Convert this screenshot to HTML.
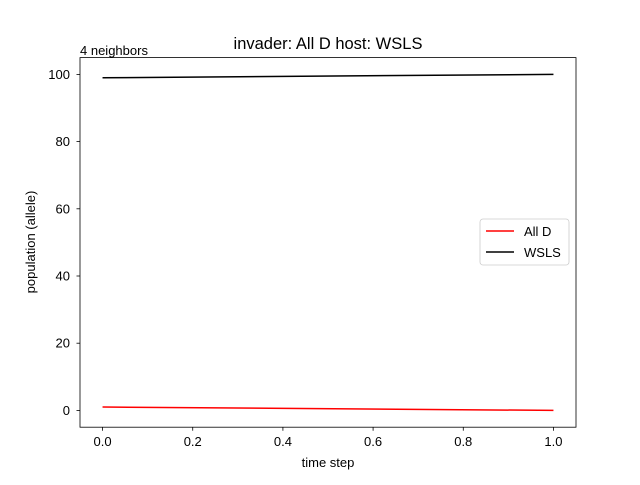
<!DOCTYPE html>
<html><head><meta charset="utf-8"><style>
body{margin:0;background:#fff;}
svg{font-family:"Liberation Sans","DejaVu Sans",sans-serif;}
</style></head><body>
<svg width="640" height="480" viewBox="0 0 640 480">
<rect width="640" height="480" fill="#fff"/>
<g id="ticks"></g>
<g id="lines"></g>
<rect x="80" y="57.6" width="496" height="369.6" fill="none" stroke="#000" stroke-width="0.8"/>
<text x="328" y="49" font-size="16.5" text-anchor="middle">invader: All D host: WSLS</text>
<text x="80" y="55" font-size="13">4 neighbors</text>
<text x="328" y="467" font-size="13" text-anchor="middle">time step</text>
<text transform="translate(35,242) rotate(-90)" font-size="13" text-anchor="middle">population (allele)</text>
<g>
<rect x="480" y="219" width="89" height="46" rx="3" fill="#fff" fill-opacity="0.8" stroke="#ccc" stroke-width="0.8"/>
<line x1="486" y1="231" x2="514" y2="231" stroke="red" stroke-width="1.5"/>
<text x="524" y="236" font-size="13">All D</text>
<line x1="486" y1="252" x2="514" y2="252" stroke="#000" stroke-width="1.5"/>
<text x="524" y="257" font-size="13">WSLS</text>
</g>
</svg>
<script>
const xValues=[0,1];
const allD=[1,0];
const wsls=[99,100];
const xTicks=[0,0.2,0.4,0.6,0.8,1.0];
const yTicks=[0,20,40,60,80,100];
const xs=v=>80+(v+0.05)/1.1*496;
const ys=v=>427.2-(v+5)/110*369.6;
const NS="http://www.w3.org/2000/svg";
const tg=document.getElementById('ticks'),lg=document.getElementById('lines');
function mk(tag,attrs,parent){const e=document.createElementNS(NS,tag);for(const k in attrs)e.setAttribute(k,attrs[k]);parent.appendChild(e);return e;}
xTicks.forEach(t=>{const x=xs(t);
const l=mk('line',{x1:x,x2:x,y1:427.2,y2:430.7,stroke:'#000','stroke-width':0.8},tg);


const tx=mk('text',{x:x,y:446,'font-size':13,'text-anchor':'middle'},tg);tx.textContent=t.toFixed(1);

});
yTicks.forEach(t=>{const y=ys(t);
const l=mk('line',{x1:76.5,x2:80,y1:y,y2:y,stroke:'#000','stroke-width':0.8},tg);


const tx=mk('text',{x:70,y:y+4.5,'font-size':13,'text-anchor':'end'},tg);tx.textContent=t;

});
function line(vals,color,name){const p=mk('polyline',{points:vals.map((v,i)=>xs(xValues[i])+','+ys(v)).join(' '),fill:'none',stroke:color,'stroke-width':1.5},lg);

}
line(allD,'red','all-d-line');
line(wsls,'#000','wsls-line');
</script>
</body></html>
